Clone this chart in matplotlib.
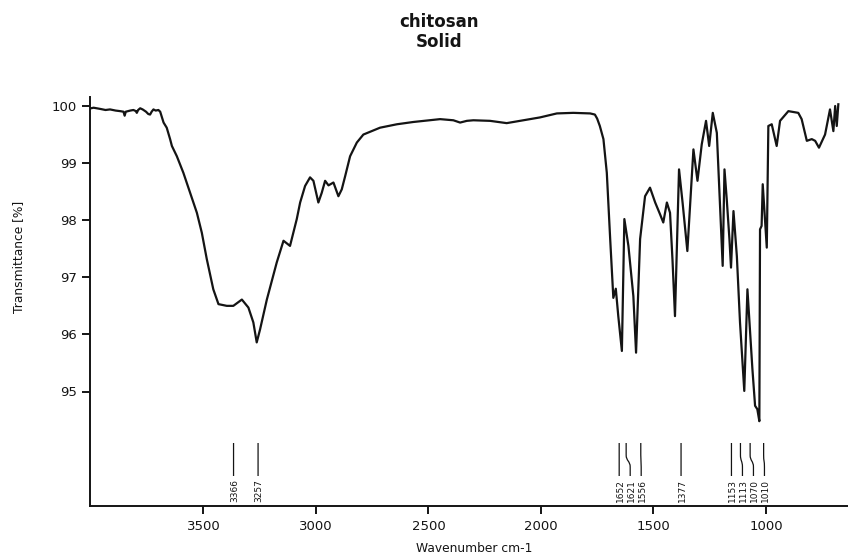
import matplotlib
matplotlib.use("Agg")
import matplotlib.pyplot as plt
import matplotlib.transforms as mtransforms
from matplotlib.path import Path
from matplotlib.patches import PathPatch

# ---------------- data ----------------
wavenumber = [
    4000, 3988, 3960, 3935, 3915, 3890, 3870, 3855, 3850, 3845, 3825, 3811, 3800,
    3796, 3790, 3781, 3770, 3755, 3745, 3737, 3730, 3722, 3712, 3700, 3692, 3677,
    3663, 3648, 3640, 3618, 3589, 3559, 3529, 3507, 3485, 3456, 3433, 3396, 3367,
    3329, 3300, 3278, 3263, 3248, 3218, 3174, 3144, 3115, 3085, 3070, 3048, 3026,
    3011, 2989, 2974, 2959, 2944, 2922, 2900, 2885, 2870, 2848, 2818, 2789, 2715,
    2640, 2567, 2448, 2389, 2359, 2329, 2300, 2226, 2152, 2078, 2004, 1929, 1856,
    1781, 1760, 1750, 1738, 1722, 1707, 1692, 1678, 1667, 1656, 1640, 1629, 1611,
    1589, 1577, 1559, 1537, 1515, 1492, 1470, 1456, 1440, 1426, 1415, 1404, 1386,
    1370, 1349, 1322, 1304, 1285, 1266, 1252, 1236, 1218, 1207, 1192, 1184, 1174,
    1162, 1155, 1144, 1129, 1115, 1096, 1082, 1060, 1048, 1038, 1029, 1026, 1019,
    1014, 996, 989, 974, 952, 937, 900, 856, 841, 818, 796, 781, 764, 737, 715,
    700, 692, 685, 678,
]
transmittance = [
    99.96, 99.97, 99.95, 99.93, 99.94, 99.92, 99.91, 99.90, 99.83, 99.90, 99.92, 99.93, 99.91,
    99.88, 99.93, 99.96, 99.94, 99.90, 99.86, 99.85, 99.90, 99.94, 99.92, 99.93, 99.90, 99.71,
    99.62, 99.42, 99.30, 99.12, 98.83, 98.48, 98.13, 97.78, 97.32, 96.79, 96.53, 96.50, 96.50,
    96.61, 96.47, 96.21, 95.86, 96.09, 96.61, 97.26, 97.64, 97.55, 98.02, 98.31, 98.60, 98.75,
    98.69, 98.31, 98.48, 98.69, 98.61, 98.66, 98.42, 98.54, 98.77, 99.12, 99.36, 99.50, 99.62,
    99.68, 99.72, 99.77, 99.75, 99.71, 99.74, 99.75, 99.74, 99.70, 99.75, 99.80, 99.87, 99.88,
    99.87, 99.85, 99.78, 99.65, 99.42, 98.83, 97.67, 96.64, 96.80, 96.32, 95.71, 98.02, 97.55,
    96.67, 95.68, 97.67, 98.42, 98.57, 98.31, 98.10, 97.96, 98.31, 98.13, 97.30, 96.32, 98.89,
    98.30, 97.46, 99.24, 98.69, 99.33, 99.74, 99.30, 99.88, 99.53, 98.54, 97.20, 98.89, 98.37,
    97.67, 97.17, 98.16, 97.37, 96.21, 95.01, 96.79, 95.40, 94.75, 94.69, 94.48, 97.84, 97.90,
    98.63, 97.52, 99.65, 99.68, 99.30, 99.74, 99.91, 99.88, 99.77, 99.39, 99.42, 99.39, 99.27, 99.50, 99.94,
    99.56, 100.00, 99.65, 100.03,
]
peak_labels = [3366, 3257, 1652, 1621, 1556, 1377, 1153, 1113, 1070, 1010]
x_ticks = [3500, 3000, 2500, 2000, 1500, 1000]
y_ticks = [95, 96, 97, 98, 99, 100]

title_line1 = "chitosan"
title_line2 = "Solid"
x_label = "Wavenumber cm-1"
y_label = "Transmittance [%]"

INK = "#141414"

# ---------------- figure ----------------
W, H = 848, 554
fig = plt.figure(figsize=(W / 100, H / 100), dpi=100)
ax_left, ax_right, ax_top, ax_bottom = 90, 848, 96.7, 505.7
ax = fig.add_axes([ax_left / W, 1 - ax_bottom / H,
                   (ax_right - ax_left) / W, (ax_bottom - ax_top) / H])

ax.plot(wavenumber, transmittance, color=INK, lw=1.6)

ax.set_xlim(4004, 635)
ax.set_ylim(93.0, 93.0 + (ax_bottom - ax_top) / 57.1)

for s in ["top", "right"]:
    ax.spines[s].set_visible(False)
for s in ["left", "bottom"]:
    ax.spines[s].set_linewidth(1.4)
    ax.spines[s].set_color(INK)

ax.set_xticks(x_ticks)
ax.set_xticklabels([str(t) for t in x_ticks])
ax.set_yticks(y_ticks)
ax.set_yticklabels([str(t) for t in y_ticks])
ax.tick_params(axis="both", direction="out", length=5.5, width=1.4,
               colors=INK, labelsize=9.5, labelcolor=INK)
ax.tick_params(axis="x", pad=4.5)
ax.tick_params(axis="y", pad=4)

ax.set_xlabel(x_label, fontsize=8.8, color=INK, va="center")
ax.xaxis.set_label_coords((474 - ax_left) / (ax_right - ax_left),
                          (ax_bottom - 548) / (ax_bottom - ax_top))
ax.set_ylabel(y_label, fontsize=8.8, color=INK, va="center")
ax.yaxis.set_label_coords((18.5 - ax_left) / (ax_right - ax_left),
                          (ax_bottom - 256.7) / (ax_bottom - ax_top))

fig.text(439 / W, 1 - 26.7 / H, title_line1, ha="center", va="baseline",
         fontsize=12, fontweight="bold", color=INK)
fig.text(439 / W, 1 - 46.7 / H, title_line2, ha="center", va="baseline",
         fontsize=12, fontweight="bold", color=INK)

# ---------------- peak labels ----------------
def frac(ypx):
    return (ax_bottom - ypx) / (ax_bottom - ax_top)

trans = mtransforms.blended_transform_factory(ax.transData, ax.transAxes)
inv = ax.transData.inverted()
prev = -1e9
for wn in sorted(peak_labels, reverse=True):
    px = ax.transData.transform((wn, 95))[0]
    tx = max(px + 1, prev + 11)
    prev = tx
    wn_bot = inv.transform((tx - 1, 0))[0]
    wn_txt = inv.transform((tx, 0))[0]
    # smooth S-bend from peak position down to label position
    verts = [(wn, frac(443)), (wn, frac(455)),
             (wn, frac(461)), (wn_bot, frac(461)), (wn_bot, frac(467)),
             (wn_bot, frac(476))]
    codes = [Path.MOVETO, Path.LINETO, Path.CURVE4, Path.CURVE4, Path.CURVE4,
             Path.LINETO]
    ax.add_patch(PathPatch(Path(verts, codes), transform=trans, fill=False,
                           edgecolor=INK, lw=0.9, clip_on=False))
    ax.text(wn_txt, frac(479), str(wn), transform=trans, rotation=90,
            ha="center", va="top", fontsize=6.5, color=INK)

fig.savefig("out.png", dpi=100)
